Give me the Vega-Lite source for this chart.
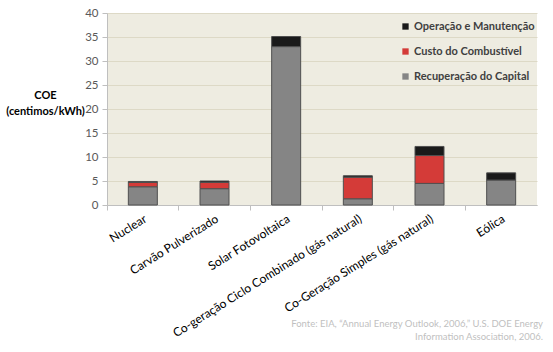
{
  "$schema": "https://vega.github.io/schema/vega-lite/v6.json",
  "width": 430,
  "height": 192,
  "autosize": "none",
  "padding": {"left": 107, "top": 13, "right": 16, "bottom": 147},
  "background": "white",
  "title": {
    "text": ["Fonte: EIA, “Annual Energy Outlook, 2006,” U.S. DOE Energy", "Information Association, 2006."],
    "orient": "bottom", "anchor": "end", "align": "right", "frame": "group",
    "fontSize": 9.5, "font": "Lato", "fontWeight": "normal", "color": "#bfbfbf",
    "offset": -20, "dx": 6, "lineHeight": 13
  },
  "data": {
    "values": [
      {"fonte": "Nuclear", "componente": "Recuperação do Capital", "ordem": 1, "valor": 3.8},
      {"fonte": "Nuclear", "componente": "Custo do Combustível", "ordem": 2, "valor": 0.9},
      {"fonte": "Nuclear", "componente": "Operação e Manutenção", "ordem": 3, "valor": 0.2},
      {"fonte": "Carvão Pulverizado", "componente": "Recuperação do Capital", "ordem": 1, "valor": 3.4},
      {"fonte": "Carvão Pulverizado", "componente": "Custo do Combustível", "ordem": 2, "valor": 1.3},
      {"fonte": "Carvão Pulverizado", "componente": "Operação e Manutenção", "ordem": 3, "valor": 0.3},
      {"fonte": "Solar Fotovoltaica", "componente": "Recuperação do Capital", "ordem": 1, "valor": 33.0},
      {"fonte": "Solar Fotovoltaica", "componente": "Operação e Manutenção", "ordem": 3, "valor": 2.1},
      {"fonte": "Co-geração Ciclo Combinado (gás natural)", "componente": "Recuperação do Capital", "ordem": 1, "valor": 1.3},
      {"fonte": "Co-geração Ciclo Combinado (gás natural)", "componente": "Custo do Combustível", "ordem": 2, "valor": 4.5},
      {"fonte": "Co-geração Ciclo Combinado (gás natural)", "componente": "Operação e Manutenção", "ordem": 3, "valor": 0.3},
      {"fonte": "Co-Geração Simples (gás natural)", "componente": "Recuperação do Capital", "ordem": 1, "valor": 4.5},
      {"fonte": "Co-Geração Simples (gás natural)", "componente": "Custo do Combustível", "ordem": 2, "valor": 5.8},
      {"fonte": "Co-Geração Simples (gás natural)", "componente": "Operação e Manutenção", "ordem": 3, "valor": 1.9},
      {"fonte": "Eólica", "componente": "Recuperação do Capital", "ordem": 1, "valor": 5.2},
      {"fonte": "Eólica", "componente": "Operação e Manutenção", "ordem": 3, "valor": 1.5}
    ]
  },
  "mark": {"type": "bar", "width": 29, "stroke": "#505050", "strokeWidth": 1},
  "encoding": {
    "x": {
      "field": "fonte", "type": "nominal", "sort": null,
      "scale": {"paddingInner": 0, "paddingOuter": 0},
      "axis": {
        "title": null, "labelAngle": -32, "bandPosition": 0, "labelOffset": 0,
        "labelAlign": "right", "labelBaseline": "top", "labelLimit": 400,
        "labelFontSize": 12, "labelColor": "#000000", "labelPadding": 3,
        "tickSize": 5, "tickColor": "#bfbfbf", "domainColor": "#bfbfbf", "grid": false
      }
    },
    "y": {
      "field": "valor", "type": "quantitative", "stack": "zero",
      "scale": {"domain": [0, 40]},
      "axis": {
        "title": ["COE", "(centimos/kWh)"], "titleAngle": 0, "titleFontWeight": "bold",
        "titleX": -62, "titleY": 85, "titleAlign": "center", "titleBaseline": "alphabetic",
        "titleFontSize": 11, "titleColor": "#000000", "titleLineHeight": 16,
        "values": [0, 5, 10, 15, 20, 25, 30, 35, 40],
        "grid": true, "gridColor": "#ddd9c6", "domainColor": "#bfbfbf", "tickColor": "#bfbfbf",
        "tickSize": 5, "labelFontSize": 11.5, "labelColor": "#595959", "labelPadding": 4
      }
    },
    "color": {
      "field": "componente", "type": "nominal",
      "scale": {
        "domain": ["Operação e Manutenção", "Custo do Combustível", "Recuperação do Capital"],
        "range": ["#1a1a1a", "#d43b38", "#858585"]
      },
      "legend": {
        "orient": "none", "legendX": 293, "legendY": 8, "title": null,
        "symbolType": "square", "symbolSize": 40, "symbolStrokeWidth": 0,
        "labelFontSize": 11, "labelFontWeight": "bold", "labelColor": "#404040",
        "rowPadding": 13, "labelOffset": 3
      }
    },
    "order": {"field": "ordem", "type": "quantitative"}
  },
  "config": {
    "font": "Lato",
    "view": {"stroke": null, "fill": "#eeece1"}
  }
}
